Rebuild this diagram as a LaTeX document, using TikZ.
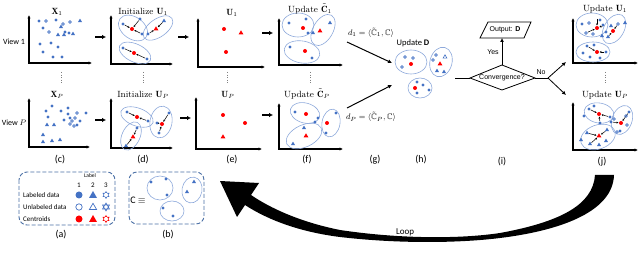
\documentclass[tikz,border=0pt]{standalone}
\usepackage{amssymb}
\usepackage{fontspec}
\newfontfamily\carl{Carlito}
\newfontfamily\arl{Liberation Sans}
\usetikzlibrary{arrows.meta,calc}
\definecolor{bl}{HTML}{4472C4}
\definecolor{rd}{HTML}{FF0000}
\definecolor{el}{HTML}{8EA9DB}
\definecolor{dbox}{HTML}{4A6FA5}
\tikzset{
 bp/.pic={\fill[bl] (0,0) circle (1.7);},
 hp/.pic={\draw[bl,line width=0.6pt] (0,0) circle (1.4);},
 bt/.pic={\fill[bl] (0,-2.4)--(2.1,1.2)--(-2.1,1.2)--cycle;},
 ht/.pic={\draw[bl,line width=0.6pt] (0,-2.2)--(1.9,1.1)--(-1.9,1.1)--cycle;},
 rp/.pic={\fill[rd] (0,0) circle (2);},
 rt/.pic={\fill[rd] (0,-2.7)--(2.4,1.3)--(-2.4,1.3)--cycle;},
}
\newcommand\axes[4]{\draw[axis] (#1,#3) -- (#1,#2) -- (#4,#2);}
\newcommand\pts[2]{\foreach \p in {#2} \pic at \p {#1};}
\newcommand\asg[2]{\foreach \p in {#2} \draw[sa] \p -- #1;}
\newcommand\ellp[5]{\draw[ell, rotate around={#5:(#1,#2)}] (#1,#2) ellipse [x radius=#3, y radius=#4];}
\begin{document}
\begin{tikzpicture}[x=1pt,y=-1pt,
  every node/.style={inner sep=0pt},
  ttl/.style={font=\fontsize{9}{10}\selectfont},
  sub/.style={font=\carl\fontsize{10}{12}\selectfont},
  view/.style={font=\carl\fontsize{8}{9}\selectfont},
  flt/.style={font=\arl\fontsize{7}{8}\selectfont},
  lg/.style={font=\carl\fontsize{7}{8}\selectfont},
  axis/.style={line width=1.1pt,line join=miter,{Latex[length=3.5pt,width=3.5pt]}-{Latex[length=3.5pt,width=3.5pt]}},
  pa/.style={line width=1.3pt,-{Latex[length=4pt,width=4.5pt]}},
  ga/.style={line width=1pt,-{Latex[length=4pt,width=4pt]}},
  ell/.style={draw=el,line width=0.6pt},
  sa/.style={line width=0.5pt,-{Stealth[length=2pt,width=2pt]},shorten <=2pt,shorten >=2.6pt},
  fl/.style={line width=0.8pt},
  vd/.style={line width=0.6pt,dotted,gray},
  dbx/.style={draw=dbox,line width=0.9pt,dash pattern=on 4pt off 2pt,rounded corners=8pt}
]
\useasboundingbox (0,0) rectangle (640,256);

% ---------- titles ----------
\node[ttl] (tX1) at (57,12) {$\mathbf{X}_1$};
\node[ttl] (tI1) at (143,12) {Initialize $\mathbf{U}_1$};
\node[ttl] (tU1) at (232,13) {$\mathbf{U}_1$};
\node[ttl] (tC1) at (310,9) {Update $\tilde{\mathbf{C}}_1$};
\node[ttl] (tJ1) at (605,9) {Update $\mathbf{U}_1$};
\node[ttl] (tXP) at (57,95) {$\mathbf{X}_P$};
\node[ttl] (tIP) at (143,95) {Initialize $\mathbf{U}_P$};
\node[ttl] (tUP) at (228,95) {$\mathbf{U}_P$};
\node[ttl] (tCP) at (307,94) {Update $\tilde{\mathbf{C}}_P$};
\node[ttl] (tJP) at (605,95) {Update $\mathbf{U}_P$};
\node[view] (v1) at (14,42) {View 1};
\node[view] (vP) at (14,123) {View $P$};

% ---------- axes ----------
\axes{29}{63}{15}{92}
\axes{111}{64}{15}{173}
\axes{198}{67}{18}{265}
\axes{279}{65}{18}{343}
\axes{573}{63}{18}{638}
\axes{29}{147}{98}{90}
\axes{111}{148}{98}{173}
\axes{196}{149}{97}{262}
\axes{279}{149}{103}{343}
\axes{573}{150}{102}{638}

% ---------- vertical dots ----------
\foreach \x in {61,143,227,310,605} \draw[vd] (\x,72) -- (\x,83);

% ---------- panel arrows ----------
\coordinate (a1s) at (95,37); \coordinate (a1e) at (106,37);
\coordinate (a2s) at (178,37); \coordinate (a2e) at (189,37);
\coordinate (a3s) at (262,33); \coordinate (a3e) at (273,33);
\coordinate (b1s) at (95,120); \coordinate (b1e) at (106,120);
\coordinate (b2s) at (180,118); \coordinate (b2e) at (191,118);
\coordinate (b3s) at (262,115); \coordinate (b3e) at (273,115);
\foreach \s/\e in {a1s/a1e,a2s/a2e,a3s/a3e,b1s/b1e,b2s/b2e,b3s/b3e} \draw[pa] (\s) -- (\e);

% ---------- (c) ----------
\pts{bp}{(39,21),(56,20),(43,28),(65,32),(69,33),(40,44),(51,43),(58,47),(43,52),(53,57),(62,57)}
\pts{hp}{(46,21),(70,22),(63,24),(49,32)}
\pts{bt}{(80,21),(61,27),(58,35),(64,35),(73,34)}
\pts{bp}{(52,106),(46,111),(61,111),(68,108),(68,114),(86,113),(48,117),(70,118),(64,120),(80,121),(77,125)}
\pts{hp}{(77,113),(75,118),(72,121),(70,124),(74,126)}
\pts{bt}{(47,125),(54,125),(43,135),(43,142),(52,141),(60,140)}

% ---------- (d) ----------
\ellp{133}{28}{16}{11}{-35}
\ellp{158}{28}{17}{9}{35}
\ellp{135}{53}{17}{9}{-25}
\asg{(132,29)}{(123,24),(140,19),(142,34)}
\asg{(156,29)}{(148,34),(164,21)}
\asg{(134,53)}{(123,48),(147,59)}
\pts{bp}{(123,24),(140,19),(142,34),(148,34),(123,48),(147,59)}
\pts{bt}{(164,21)}
\pts{rp}{(132,29),(134,53)}
\pts{rt}{(156,29)}

\ellp{137}{117}{17}{9}{-20}
\ellp{161}{122}{11}{16}{-10}
\ellp{131}{136}{9}{15}{-25}
\asg{(137,117)}{(127,112),(148,121)}
\asg{(162,124)}{(169,113),(157,123),(159,133)}
\asg{(133,137)}{(137,128),(126,146)}
\pts{bp}{(127,112),(148,121),(169,113),(157,123),(159,133),(137,128)}
\pts{bt}{(126,146)}
\pts{rp}{(137,117),(162,124)}
\pts{rt}{(133,137)}

% ---------- (e) ----------
\pts{rp}{(224,29),(226,52),(223,115),(245,123)}
\pts{rt}{(241,33),(223,137)}

% ---------- (f) ----------
\ellp{298}{25}{16}{12}{0}
\ellp{323}{30}{10}{17}{-30}
\ellp{302}{52}{18}{11}{-10}
\pts{bp}{(289,23),(306,19),(308,33),(290,47),(312,58)}
\pts{bt}{(313,33),(330,23)}
\pts{rp}{(303,28),(305,51)}
\pts{rt}{(320,31)}

\ellp{305}{113}{15}{10}{-15}
\ellp{304}{136}{19}{11}{25}
\ellp{331}{123}{9}{14}{-10}
\pts{bp}{(295,112),(318,118),(315,122),(336,113),(326,133)}
\pts{bt}{(304,128),(293,144)}
\pts{rp}{(306,114),(327,123)}
\pts{rt}{(306,136)}

% ---------- (g) ----------
\node[font=\fontsize{8}{9}\selectfont] (g1) at (371,33) {$d_1=\langle\tilde{\mathbb{C}}_1,\mathbb{C}\rangle$};
\node[font=\fontsize{8}{9}\selectfont] (gP) at (371,117) {$d_P=\langle\tilde{\mathbb{C}}_P,\mathbb{C}\rangle$};
\coordinate (g1s) at (347,42); \coordinate (g1e) at (392,63);
\coordinate (gPs) at (347,108); \coordinate (gPe) at (392,85);
\draw[ga] (g1s) -- (g1e);
\draw[ga] (gPs) -- (gPe);

% ---------- (h) ----------
\node[font=\carl\fontsize{8.5}{10}\selectfont] (tD) at (413,43) {Update \textbf{D}};
\ellp{411}{62}{16}{12}{0}
\ellp{441}{62}{11}{15}{-15}
\ellp{420}{88}{12}{10}{0}
\pts{hp}{(405,57),(413,58),(402,67),(436,55),(433,60)}
\pts{bt}{(437,71),(444,72)}
\pts{ht}{(445,57)}
\pts{rp}{(411,64)}
\pts{rt}{(440,64)}
\pts{bp}{(417,82),(423,85),(417,93),(429,90)}
\pts{rp}{(415,88)}

% ---------- (i) flowchart ----------
\coordinate (dL) at (470,78); \coordinate (dT) at (502,65);
\coordinate (dR) at (535,78); \coordinate (dB) at (502,90);
\draw[fl] (dL) -- (dT) -- (dR) -- (dB) -- cycle;
\node[flt] (conv) at (502,78) {Convergence?};
\coordinate (p1) at (480,38); \coordinate (p2) at (488,22);
\coordinate (p3) at (531,22); \coordinate (p4) at (524,38);
\coordinate (pb) at (502,38);
\draw[fl] (p1) -- (p2) -- (p3) -- (p4) -- cycle;
\node[flt] (out) at (505,30) {Output: \textbf{D}};
\draw[fl,-{Latex[length=4pt,width=4pt]}] (dT) -- (pb);
\node[flt] (yes) at (493,52) {Yes};
\coordinate (hR) at (455,78);
\draw[fl] (hR) -- (dL);
\node[flt] (no) at (541,72) {No};
\coordinate (br) at (548,78);
\coordinate (u1) at (566,62); \coordinate (uP) at (566,95);
\draw[fl] (dR) -- (br);
\draw[fl,-{Latex[length=4pt,width=4pt]}] (br) -- (u1);
\draw[fl,-{Latex[length=4pt,width=4pt]}] (br) -- (uP);

% ---------- (j) ----------
\ellp{592}{25}{16}{12}{0}
\ellp{614}{29}{10}{16}{-30}
\ellp{593}{52}{17}{10}{0}
\asg{(597,28)}{(597,17),(586,33),(605,25)}
\asg{(613,31)}{(618,24),(608,37)}
\asg{(597,52)}{(587,46),(606,52)}
\pts{bp}{(582,24),(600,20),(603,25),(606,32),(587,46),(594,45),(583,53),(590,57),(600,58),(606,52)}
\pts{hp}{(589,23),(586,33),(593,34),(618,24)}
\pts{bt}{(625,23),(611,26),(602,36),(608,37)}
\pts{rp}{(597,28),(613,31),(597,52)}

\ellp{599}{113}{15}{10}{-10}
\ellp{622}{120}{10}{15}{-20}
\ellp{598}{137}{18}{12}{20}
\asg{(599,114)}{(589,109),(610,117),(600,123)}
\asg{(621,123)}{(629,112),(611,122)}
\asg{(599,136)}{(587,133),(590,144),(607,130)}
\pts{bp}{(589,109),(594,106),(610,117),(600,123),(584,116),(629,112),(620,131),(611,122)}
\pts{hp}{(626,116),(627,125),(617,132),(614,119)}
\pts{bt}{(587,133),(590,144),(599,145),(606,141),(607,130),(581,140)}
\pts{rp}{(599,114),(621,123)}
\pts{rt}{(599,136)}

% ---------- sub labels ----------
\node[sub] (la) at (61,235) {(a)};
\node[sub] (lb) at (168,235) {(b)};
\node[sub] (lc) at (60,160) {(c)};
\node[sub] (ld) at (143,160) {(d)};
\node[sub] (le) at (232,160) {(e)};
\node[sub] (lf) at (307,160) {(f)};
\node[sub] (lg) at (375,160) {(g)};
\node[sub] (lh) at (421,160) {(h)};
\node[sub] (li) at (502,162) {(i)};
\node[sub] (lj) at (602,162) {(j)};

% ---------- legend (a) ----------
\draw[dbx] (19,172) rectangle (115,225);
\node[font=\carl\fontsize{5.5}{6}\selectfont] (lab) at (90,176) {Label};
\node[lg] (n1) at (79,185) {1};
\node[lg] (n2) at (93,185) {2};
\node[lg] (n3) at (106,185) {3};
\node[lg,anchor=west] (r1) at (23,195) {Labeled data};
\node[lg,anchor=west] (r2) at (23,207) {Unlabeled data};
\node[lg,anchor=west] (r3) at (23,219) {Centroids};
\fill[bl] (79,195) circle (3.5);
\draw[bl,line width=0.7pt] (79,207) circle (3.2);
\fill[rd] (79,219) circle (3.5);
\fill[bl] (93,191) -- (97,198) -- (89,198) -- cycle;
\draw[bl,line width=0.7pt] (93,203.3) -- (96.6,209.5) -- (89.4,209.5) -- cycle;
\fill[rd] (93,215) -- (97,222) -- (89,222) -- cycle;
\fill[bl] (106,191) -- (109.5,197) -- (102.5,197) -- cycle (106,199) -- (109.5,193) -- (102.5,193) -- cycle;
\draw[bl,line width=0.6pt] (106,203) -- (109.5,209) -- (102.5,209) -- cycle (106,211) -- (109.5,205) -- (102.5,205) -- cycle;
\fill[rd] (106,215) -- (109.5,221) -- (102.5,221) -- cycle (106,223) -- (109.5,217) -- (102.5,217) -- cycle;

% ---------- (b) ----------
\draw[dbx] (129,172) rectangle (204,224);
\node[font=\carl\fontsize{10}{12}\selectfont] (ceq) at (138,200) {C $\equiv$};
\ellp{160}{188}{13}{12}{0}
\ellp{192}{190}{10}{13}{-10}
\ellp{172}{211}{12}{10}{0}
\pts{bp}{(151,182),(166,179),(167,195),(163,208),(173,216)}
\pts{bt}{(194,182),(187,192)}

% ---------- loop arrow ----------
\node[font=\carl\fontsize{9}{10}\selectfont] (loop) at (405,232) {Loop};
\fill (595,175) .. controls (593,205) and (560,222) .. (500,233)
  .. controls (460,239) and (400,239) .. (340,230)
  .. controls (300,222) and (270,208) .. (251,195)
  -- (259,183) -- (220,181) -- (237,217) -- (245,205)
  .. controls (268,220) and (300,232) .. (340,237)
  .. controls (400,244) and (460,243) .. (500,238)
  .. controls (565,230) and (613,210) .. (614,175) -- cycle;
\end{tikzpicture}
\end{document}
